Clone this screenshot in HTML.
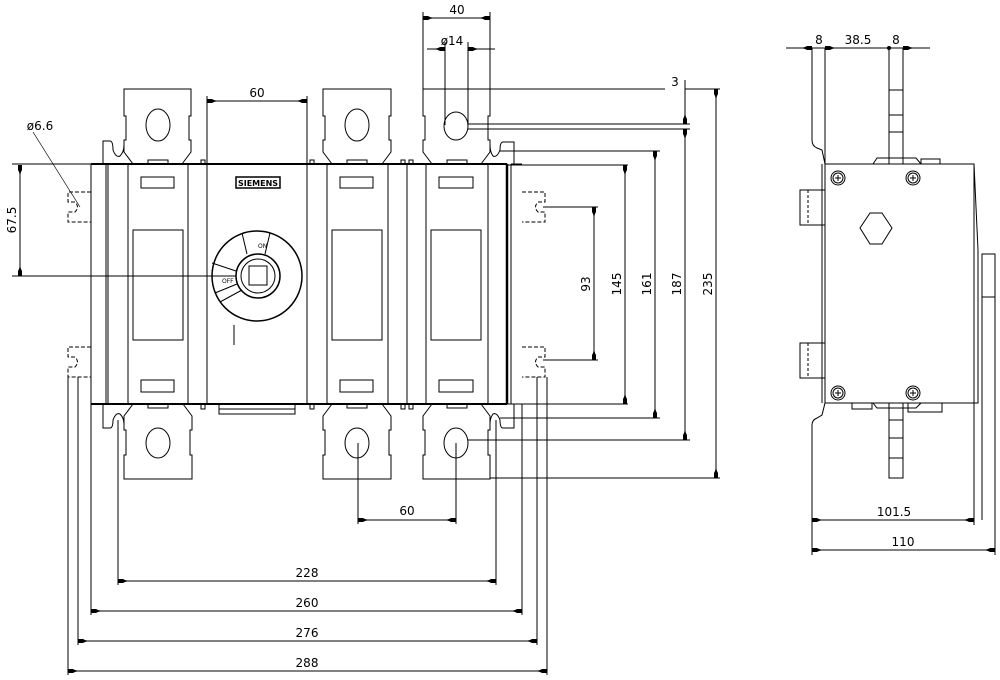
<!DOCTYPE html>
<html><head><meta charset="utf-8"><style>
html,body{margin:0;padding:0;background:#fff}
svg{display:block}
text{font-family:"DejaVu Sans","Liberation Sans",sans-serif;font-size:12px;fill:#000}
</style></head><body>
<svg width="1000" height="680" viewBox="0 0 1000 680" xmlns="http://www.w3.org/2000/svg">
<defs>
<marker id="a" markerWidth="12" markerHeight="6" refX="11" refY="3" orient="auto-start-reverse" markerUnits="userSpaceOnUse">
<path d="M0,3 L4,2 L6,1 L11,1 L11,5 L6,5 L4,4 Z" fill="#000"/></marker>
</defs>
<g fill="none" stroke="#000" stroke-width="1">
<rect x="91" y="164" width="416" height="240"/>
<line x1="91" y1="164" x2="507" y2="164" stroke-width="2"/>
<line x1="91" y1="404" x2="507" y2="404" stroke-width="2"/>
<line x1="507" y1="164" x2="507" y2="404" stroke-width="2.5"/>
<line x1="511" y1="164" x2="511" y2="404"/>
<line x1="511" y1="164" x2="522" y2="164"/><line x1="511" y1="404" x2="522" y2="404"/>
<line x1="106" y1="164" x2="106" y2="404"/><line x1="108" y1="164" x2="108" y2="404"/>
<line x1="128" y1="164" x2="128" y2="404"/><line x1="188" y1="164" x2="188" y2="404"/>
<line x1="207" y1="164" x2="207" y2="404"/><line x1="307" y1="164" x2="307" y2="404"/>
<line x1="327" y1="164" x2="327" y2="404"/><line x1="388" y1="164" x2="388" y2="404"/>
<line x1="407" y1="164" x2="407" y2="404"/><line x1="426" y1="164" x2="426" y2="404"/>
<line x1="488" y1="164" x2="488" y2="404"/>
<rect x="141" y="177" width="33" height="11"/><rect x="340" y="177" width="33" height="11"/><rect x="439" y="177" width="34" height="11"/>
<rect x="133" y="230" width="50" height="110"/><rect x="332" y="230" width="50" height="110"/><rect x="431" y="230" width="50" height="110"/>
<rect x="141" y="380" width="33" height="12"/><rect x="340" y="380" width="33" height="12"/><rect x="439" y="380" width="34" height="12"/>
<rect x="219" y="404" width="76" height="10"/><line x1="219" y1="409" x2="295" y2="409"/>
<rect x="148" y="160" width="20" height="4"/><rect x="347" y="160" width="20" height="4"/><rect x="447" y="160" width="20" height="4"/>
<rect x="201" y="160" width="4" height="4"/><rect x="310" y="160" width="4" height="4"/><rect x="401" y="160" width="4" height="4"/><rect x="409" y="160" width="4" height="4"/>
<rect x="201" y="404" width="4" height="5"/><rect x="310" y="404" width="4" height="5"/><rect x="401" y="404" width="4" height="5"/><rect x="409" y="404" width="4" height="5"/>
<rect x="148" y="404" width="20" height="4"/><rect x="347" y="404" width="20" height="4"/><rect x="447" y="404" width="20" height="4"/>
<path d="M133,164 L124,152 L124,140 L126,140 L126,116 L124,116 L124,89 L191,89 L191,116 L189,116 L189,140 L191,140 L191,152 L182,164"/>
<ellipse cx="158" cy="125" rx="12" ry="16"/>
<path d="M332,164 L323,152 L323,140 L325,140 L325,116 L323,116 L323,89 L391,89 L391,116 L389,116 L389,140 L391,140 L391,152 L382,164"/>
<ellipse cx="357" cy="125" rx="12" ry="16"/>
<path d="M432,164 L423,152 L423,140 L425,140 L425,116 L423,116 L423,89 L490,89 L490,116 L488,116 L488,140 L490,140 L490,152 L481,164"/>
<ellipse cx="456" cy="126" rx="12" ry="14"/>
<path d="M103,164 L103,141 L110,141 Q113,141 113,150 Q116,158 120,156 Q124,152 124,145"/>
<path d="M514,164 L514,142 L503,142 Q500,142 500,150 Q497,158 493,156 Q490,152 490,145"/>
<path d="M133,404 L124,416 L124,430 L126,430 L126,455 L124,455 L124,479 L192,479 L192,455 L190,455 L190,430 L192,430 L192,416 L183,404"/>
<ellipse cx="158" cy="443" rx="12" ry="15"/>
<path d="M332,404 L323,416 L323,430 L325,430 L325,455 L323,455 L323,479 L391,479 L391,455 L389,455 L389,430 L391,430 L391,416 L382,404"/>
<ellipse cx="357" cy="443" rx="12" ry="15"/>
<path d="M432,404 L423,416 L423,430 L425,430 L425,455 L423,455 L423,479 L490,479 L490,455 L488,455 L488,430 L490,430 L490,416 L481,404"/>
<ellipse cx="456" cy="443" rx="12" ry="15"/>
<path d="M103,404 L103,428 L110,428 Q113,428 113,420 Q116,412 120,414 Q124,418 124,424"/>
<path d="M514,404 L514,428 L503,428 Q500,428 500,420 Q497,412 493,414 Q490,418 490,424"/>
<g stroke-dasharray="4,2">
<path d="M91,192 L68,192 L68,202 L75,202 Q80,207 75,212 L68,212 L68,222 L91,222"/>
<path d="M91,347 L68,347 L68,357 L75,357 Q80,362 75,367 L68,367 L68,377 L91,377"/>
<path d="M522,192 L545,192 L545,202 L538,202 Q533,207 538,212 L545,212 L545,222 L522,222"/>
<path d="M522,347 L545,347 L545,357 L538,357 Q533,362 538,367 L545,367 L545,377 L522,377"/>
</g>
<rect x="236" y="177" width="44" height="11" stroke-width="1.5"/>
<circle cx="257" cy="276" r="45" stroke-width="1.5"/>
<circle cx="258" cy="276" r="22" stroke-width="1.5"/>
<circle cx="258" cy="276" r="17"/>
<rect x="249" y="266" width="18" height="19"/>
<line x1="247" y1="254" x2="242" y2="233"/><line x1="265" y1="254" x2="270" y2="233"/>
<line x1="236" y1="271" x2="212" y2="263"/><line x1="237" y1="284" x2="215" y2="293"/><line x1="242" y1="290" x2="220" y2="302"/>
<line x1="234" y1="325" x2="234" y2="345"/>
<line x1="12" y1="164" x2="91" y2="164"/>
<line x1="12" y1="276" x2="236" y2="276"/>
<line x1="33" y1="132" x2="80" y2="207" stroke-width="0.7"/>
<line x1="78" y1="377" x2="78" y2="645"/><line x1="68" y1="377" x2="68" y2="675"/>
<line x1="91" y1="404" x2="91" y2="615"/>
<line x1="118" y1="420" x2="118" y2="585"/>
<line x1="496" y1="420" x2="496" y2="585"/>
<line x1="522" y1="404" x2="522" y2="615"/>
<line x1="537" y1="377" x2="537" y2="645"/><line x1="547" y1="377" x2="547" y2="675"/>
<line x1="358" y1="443" x2="358" y2="524"/><line x1="456" y1="443" x2="456" y2="524"/>
<line x1="207" y1="96" x2="207" y2="164"/><line x1="307" y1="96" x2="307" y2="164"/>
<line x1="423" y1="12" x2="423" y2="89"/><line x1="490" y1="12" x2="490" y2="89"/>
<line x1="445" y1="42" x2="445" y2="125"/><line x1="468" y1="42" x2="468" y2="125"/>
<line x1="423" y1="89" x2="665" y2="89"/><line x1="685" y1="89" x2="720" y2="89"/>
<line x1="468" y1="124" x2="690" y2="124"/><line x1="468" y1="129" x2="690" y2="129"/>
<line x1="500" y1="151" x2="660" y2="151"/>
<line x1="507" y1="165" x2="628" y2="165"/>
<line x1="543" y1="207" x2="598" y2="207"/>
<line x1="543" y1="360" x2="598" y2="360"/>
<line x1="507" y1="404" x2="628" y2="404"/>
<line x1="500" y1="418" x2="660" y2="418"/>
<line x1="468" y1="440" x2="690" y2="440"/>
<line x1="490" y1="478" x2="720" y2="478"/>
<rect x="825" y="164" width="149" height="239"/>
<path d="M812,48 L812,140 Q812,146 817,148 L822,150 L825,164 M825,403 L822,415 L817,418 Q812,420 812,425 L812,555"/>
<line x1="825" y1="48" x2="825" y2="164"/>
<line x1="822" y1="164" x2="822" y2="403"/>
<rect x="800" y="190" width="25" height="35"/><rect x="800" y="343" width="25" height="35"/>
<g stroke-dasharray="3,2"><line x1="808" y1="190" x2="808" y2="225"/><line x1="808" y1="343" x2="808" y2="378"/></g>
<rect x="889" y="48" width="14" height="116"/><line x1="889" y1="90" x2="903" y2="90"/><line x1="889" y1="115" x2="903" y2="115"/><line x1="889" y1="132" x2="903" y2="132"/>
<rect x="889" y="403" width="14" height="75"/><line x1="889" y1="420" x2="903" y2="420"/><line x1="889" y1="438" x2="903" y2="438"/><line x1="889" y1="458" x2="903" y2="458"/>
<path d="M873,164 L877,158 L916,158 L921,164 M921,164 L921,159 L940,159 L940,164"/>
<path d="M852,403 L852,409 L872,409 L872,403 M873,403 L877,408 L916,408 L921,403 M908,403 L908,412 L942,412 L942,403"/>
<path d="M974,164 L978,250 L978,403 L974,403"/>
<rect x="982" y="254" width="13" height="43"/>
<line x1="995" y1="297" x2="995" y2="555"/><line x1="982" y1="297" x2="982" y2="520"/>
<line x1="974" y1="403" x2="974" y2="525"/>
<circle cx="838" cy="178" r="7"/><circle cx="913" cy="178" r="7"/><circle cx="838" cy="393" r="7"/><circle cx="913" cy="393" r="7"/>
<circle cx="838" cy="178" r="5"/><circle cx="913" cy="178" r="5"/><circle cx="838" cy="393" r="5"/><circle cx="913" cy="393" r="5"/>
<path d="M835,178h6M838,175v6M910,178h6M913,175v6M835,393h6M838,390v6M910,393h6M913,390v6"/>
<path d="M870,213 L882,213 L892,228 L882,244 L870,244 L860,228 Z"/>
</g>
<g stroke="#000" stroke-width="1" fill="none">
<line x1="207" y1="101" x2="307" y2="101" marker-start="url(#a)" marker-end="url(#a)"/>
<line x1="423" y1="18" x2="490" y2="18" marker-start="url(#a)" marker-end="url(#a)"/>
<line x1="427" y1="49" x2="445" y2="49" marker-end="url(#a)"/>
<line x1="495" y1="49" x2="468" y2="49" marker-end="url(#a)"/>
<line x1="685" y1="80" x2="685" y2="124" marker-end="url(#a)"/>
<line x1="685" y1="129" x2="685" y2="440" marker-start="url(#a)" marker-end="url(#a)"/>
<line x1="716" y1="89" x2="716" y2="478" marker-start="url(#a)" marker-end="url(#a)"/>
<line x1="655" y1="151" x2="655" y2="418" marker-start="url(#a)" marker-end="url(#a)"/>
<line x1="625" y1="165" x2="625" y2="404" marker-start="url(#a)" marker-end="url(#a)"/>
<line x1="594" y1="207" x2="594" y2="360" marker-start="url(#a)" marker-end="url(#a)"/>
<line x1="20" y1="165" x2="20" y2="276" marker-start="url(#a)" marker-end="url(#a)"/>
<line x1="358" y1="520" x2="456" y2="520" marker-start="url(#a)" marker-end="url(#a)"/>
<line x1="118" y1="581" x2="496" y2="581" marker-start="url(#a)" marker-end="url(#a)"/>
<line x1="91" y1="611" x2="522" y2="611" marker-start="url(#a)" marker-end="url(#a)"/>
<line x1="78" y1="641" x2="537" y2="641" marker-start="url(#a)" marker-end="url(#a)"/>
<line x1="68" y1="671" x2="547" y2="671" marker-start="url(#a)" marker-end="url(#a)"/>
<line x1="812" y1="520" x2="974" y2="520" marker-start="url(#a)" marker-end="url(#a)"/>
<line x1="812" y1="550" x2="995" y2="550" marker-start="url(#a)" marker-end="url(#a)"/>
<line x1="786" y1="48" x2="930" y2="48"/>
<line x1="795" y1="48" x2="812" y2="48" marker-end="url(#a)"/>
<line x1="842" y1="48" x2="825" y2="48" marker-end="url(#a)"/>
<line x1="920" y1="48" x2="903" y2="48" marker-end="url(#a)"/>
</g>
<circle cx="889" cy="48" r="2" fill="#000"/>
<text x="257" y="97" text-anchor="middle">60</text>
<text x="457" y="14" text-anchor="middle">40</text>
<text x="452" y="45" text-anchor="middle">ø14</text>
<text x="675" y="86" text-anchor="middle">3</text>
<text x="40" y="130" text-anchor="middle">ø6.6</text>
<text transform="translate(16,220) rotate(-90)" text-anchor="middle">67.5</text>
<text transform="translate(590,284) rotate(-90)" text-anchor="middle">93</text>
<text transform="translate(621,284) rotate(-90)" text-anchor="middle">145</text>
<text transform="translate(651,284) rotate(-90)" text-anchor="middle">161</text>
<text transform="translate(681,284) rotate(-90)" text-anchor="middle">187</text>
<text transform="translate(712,284) rotate(-90)" text-anchor="middle">235</text>
<text x="407" y="515" text-anchor="middle">60</text>
<text x="307" y="577" text-anchor="middle">228</text>
<text x="307" y="607" text-anchor="middle">260</text>
<text x="307" y="637" text-anchor="middle">276</text>
<text x="307" y="667" text-anchor="middle">288</text>
<text x="894" y="516" text-anchor="middle">101.5</text>
<text x="903" y="546" text-anchor="middle">110</text>
<text x="819" y="44" text-anchor="middle">8</text>
<text x="858" y="44" text-anchor="middle">38.5</text>
<text x="896" y="44" text-anchor="middle">8</text>
<text x="258" y="186" text-anchor="middle" style="font-size:8px;font-weight:bold">SIEMENS</text>
<text x="258" y="248" style="font-size:6px">ON</text>
<text x="222" y="283" style="font-size:6px">OFF</text>
</svg>
</body></html>
